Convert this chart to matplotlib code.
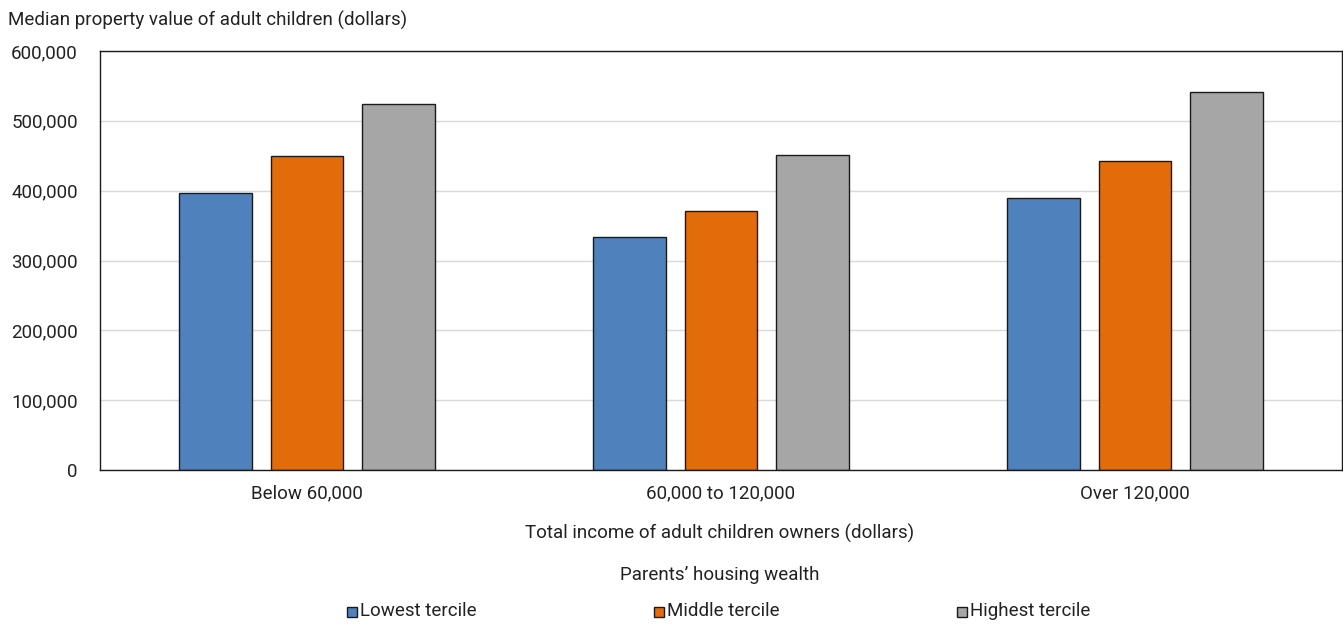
import matplotlib
matplotlib.use("Agg")
import matplotlib.pyplot as plt
from matplotlib.patches import Rectangle
from matplotlib.ticker import FuncFormatter, MultipleLocator

plt.rcParams["font.family"] = ["Roboto", "DejaVu Sans"]

categories = ["Below 60,000", "60,000 to 120,000", "Over 120,000"]
series_names = ["Lowest tercile", "Middle tercile", "Highest tercile"]
lowest = [397000, 334000, 390000]
middle = [450000, 371000, 443000]
highest = [524000, 451000, 541000]
colors = ["#4f81bd", "#e36c0a", "#a6a6a6"]

W, H = 1343, 624
FS = 13.5
TXT = "#222222"

fig = plt.figure(figsize=(W / 100, H / 100), dpi=100)
ax = fig.add_axes([100 / W, 1 - 470 / H, 1242 / W, 419 / H])

width = 0.174
offsets = [-0.221, 0.0, 0.221]
x = range(len(categories))
for vals, off, col in zip([lowest, middle, highest], offsets, colors):
    ax.bar([i + off for i in x], vals, width=width, color=col,
           edgecolor="#1a1a1a", linewidth=1.0, zorder=3)

ax.set_xlim(-0.5, 2.5)
ax.set_ylim(0, 600000)
ax.yaxis.set_major_locator(MultipleLocator(100000))
ax.yaxis.set_major_formatter(FuncFormatter(lambda v, p: f"{int(v):,}"))
ax.set_xticks(list(x))
ax.set_xticklabels(categories)
ax.tick_params(axis="both", length=0, labelsize=FS, colors=TXT)
ax.tick_params(axis="x", pad=10)
ax.tick_params(axis="y", pad=16)
ax.grid(axis="y", color="#d9d9d9", linewidth=1.0, zorder=0)
for s in ax.spines.values():
    s.set_color("#1a1a1a")
    s.set_linewidth(1.0)
    s.set_zorder(4)

fig.text(8 / W, 1 - 20 / H, "Median property value of adult children (dollars)",
         fontsize=FS, color=TXT, va="center", ha="left")
fig.text(720 / W, 1 - 533 / H, "Total income of adult children owners (dollars)",
         fontsize=FS, color=TXT, va="center", ha="center")
fig.text(720 / W, 1 - 575 / H, "Parents\u2019 housing wealth",
         fontsize=FS, color=TXT, va="center", ha="center")

# Legend: small outlined squares followed by their labels
legend_x = [347, 654, 957]
sq = 10
for lx, name, col in zip(legend_x, series_names, colors):
    fig.add_artist(Rectangle((lx / W, 1 - 617 / H), sq / W, sq / H,
                             transform=fig.transFigure, facecolor=col,
                             edgecolor="#1a1a1a", linewidth=1.0))
    fig.text((lx + sq + 3) / W, 1 - 611 / H, name, fontsize=FS, color=TXT,
             va="center", ha="left")

fig.savefig("out.png", dpi=100)
